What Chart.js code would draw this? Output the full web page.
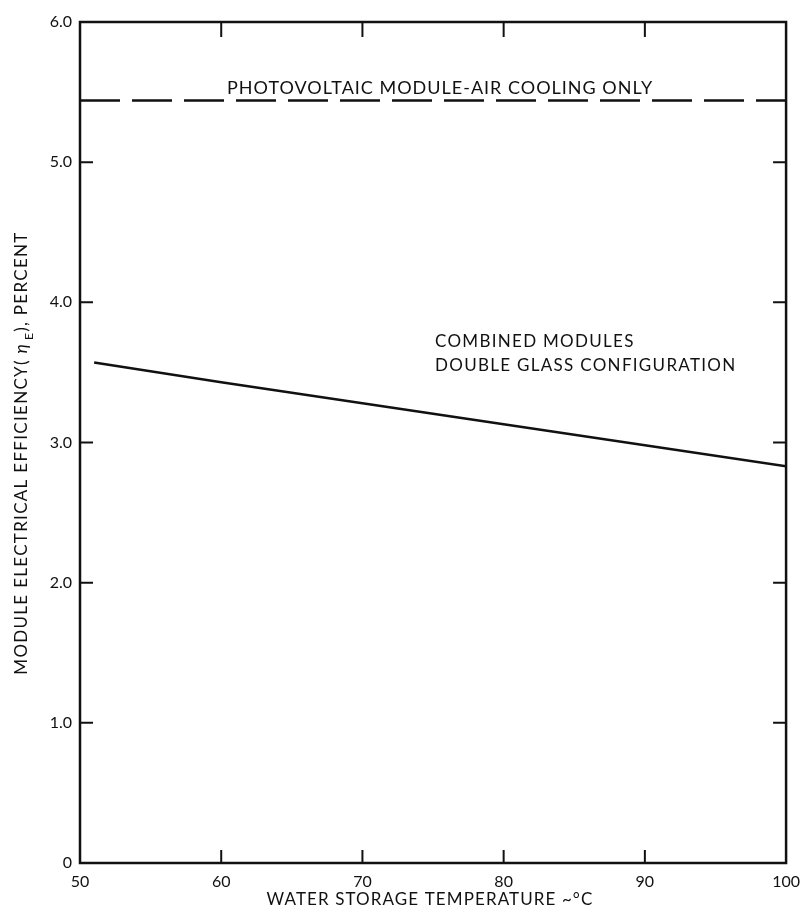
<!DOCTYPE html>
<html>
<head>
<meta charset="utf-8">
<script src="https://cdn.jsdelivr.net/npm/chart.js@4.4.1/dist/chart.umd.min.js"></script>
<style>
  html, body { margin: 0; padding: 0; background: #fff; }
  #wrap { width: 809px; height: 912px; }
</style>
</head>
<body>
<div id="wrap"><canvas id="chart" width="809" height="912"></canvas></div>
<script>
// data
var temperatures = [51, 60, 70, 80, 90, 100];
var combinedEff = [3.57, 3.43, 3.28, 3.13, 2.98, 2.83];
var airCoolTemps = [50, 100];
var airCoolEff = [5.44, 5.44];
var xTicks = [50, 60, 70, 80, 90, 100];
var yTicks = [0, 1, 2, 3, 4, 5, 6];

var FONT = 'Lato, "DejaVu Sans", sans-serif';

function spacedText(ctx, txt, x, y, spacing) {
  ctx.letterSpacing = spacing + 'px';
  ctx.fillText(txt, x, y);
  ctx.letterSpacing = '0px';
}

// frame + inward ticks + text labels
var framePlugin = {
  id: 'frame',
  afterDraw: function (chart) {
    var ctx = chart.ctx, a = chart.chartArea;
    var xs = chart.scales.x, ys = chart.scales.y;
    ctx.save();
    ctx.strokeStyle = '#111';
    ctx.lineWidth = 2.5;
    ctx.strokeRect(a.left, a.top, a.right - a.left, a.bottom - a.top);
    ctx.lineWidth = 2;
    ctx.beginPath();
    xTicks.slice(1, -1).forEach(function (v) {
      var px = xs.getPixelForValue(v);
      ctx.moveTo(px, a.bottom); ctx.lineTo(px, a.bottom - 13);
      ctx.moveTo(px, a.top); ctx.lineTo(px, a.top + 15);
    });
    yTicks.slice(1, -1).forEach(function (v) {
      var py = ys.getPixelForValue(v);
      ctx.moveTo(a.left, py); ctx.lineTo(a.left + 13, py);
      ctx.moveTo(a.right, py); ctx.lineTo(a.right - 13, py);
    });
    ctx.stroke();

    ctx.fillStyle = '#111';
    ctx.textBaseline = 'middle';
    ctx.textAlign = 'left';
    ctx.font = '18px ' + FONT;
    spacedText(ctx, 'PHOTOVOLTAIC MODULE-AIR COOLING ONLY', 227, 88, 1);
    ctx.font = '17px ' + FONT;
    spacedText(ctx, 'COMBINED MODULES', 435, 342, 1.3);
    spacedText(ctx, 'DOUBLE GLASS CONFIGURATION', 435, 366, 1.3);

    // x axis title
    ctx.textAlign = 'center';
    spacedText(ctx, 'WATER STORAGE TEMPERATURE ~°C', 430, 900, 1.1);

    // y axis title with subscript
    ctx.translate(22, 453);
    ctx.rotate(-Math.PI / 2);
    var p1 = 'MODULE ELECTRICAL EFFICIENCY( ', p2 = 'η', p3 = 'E', p4 = '), PERCENT';
    ctx.letterSpacing = '1.3px';
    ctx.font = '17px ' + FONT;
    var w1 = ctx.measureText(p1).width;
    ctx.font = 'italic 17px ' + FONT;
    var w2 = ctx.measureText(p2).width + 3;
    ctx.font = '12px ' + FONT;
    var w3 = ctx.measureText(p3).width;
    ctx.font = '17px ' + FONT;
    var w4 = ctx.measureText(p4).width;
    var x0 = -(w1 + w2 + w3 + w4) / 2;
    ctx.textAlign = 'left';
    ctx.fillText(p1, x0, 0);
    ctx.font = 'italic 17px ' + FONT;
    ctx.fillText(p2, x0 + w1, 0);
    ctx.font = '12px ' + FONT;
    ctx.fillText(p3, x0 + w1 + w2, 7);
    ctx.font = '17px ' + FONT;
    ctx.fillText(p4, x0 + w1 + w2 + w3, 0);
    ctx.restore();
  }
};

var chart = new Chart(document.getElementById('chart'), {
  type: 'line',
  data: {
    datasets: [{
      label: 'Combined modules, double glass',
      data: temperatures.map(function (t, i) { return { x: t, y: combinedEff[i] }; }),
      borderColor: '#111',
      borderWidth: 2.5,
      pointRadius: 0,
      tension: 0
    }, {
      label: 'Photovoltaic module - air cooling only',
      data: airCoolTemps.map(function (t, i) { return { x: t, y: airCoolEff[i] }; }),
      borderColor: '#111',
      borderWidth: 2.5,
      borderDash: [40, 12],
      pointRadius: 0
    }]
  },
  options: {
    responsive: false,
    animation: false,
    layout: { padding: { top: 22, right: 18, left: 0, bottom: 0 } },
    plugins: { legend: { display: false }, tooltip: { enabled: false } },
    scales: {
      x: {
        type: 'linear',
        min: 50, max: 100,
        afterBuildTicks: function (s) { s.ticks = xTicks.map(function (v) { return { value: v }; }); },
        afterFit: function (s) { s.height = 49; },
        grid: { display: false, drawTicks: false },
        border: { display: false },
        ticks: { color: '#111', font: { family: FONT, size: 16 }, padding: 9, maxRotation: 0 }
      },
      y: {
        min: 0, max: 6,
        afterBuildTicks: function (s) { s.ticks = yTicks.map(function (v) { return { value: v }; }); },
        afterFit: function (s) { s.width = 80; },
        grid: { display: false, drawTicks: false },
        border: { display: false },
        ticks: {
          color: '#111', font: { family: FONT, size: 16 }, padding: 8,
          callback: function (v) { return v === 0 ? '0' : v.toFixed(1); }
        }
      }
    }
  },
  plugins: [framePlugin]
});
</script>
</body>
</html>
